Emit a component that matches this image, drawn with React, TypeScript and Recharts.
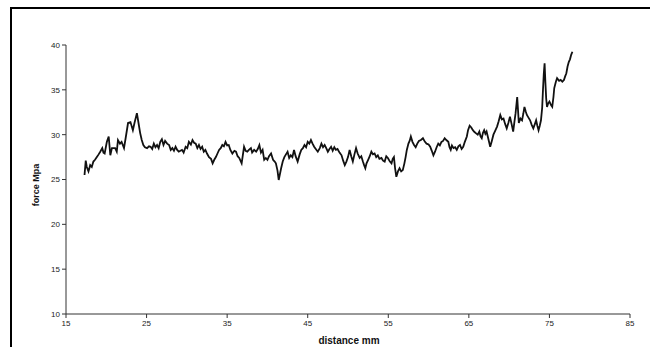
import React from 'react';
import { LineChart, Line, XAxis, YAxis } from 'recharts';

// distance (mm)
const distance = [
  17.3, 17.45, 17.58, 17.79, 18.0, 18.2, 18.4, 18.6, 18.83, 19.05, 19.25, 19.5, 19.65, 19.8, 20.07, 20.3, 20.5, 20.7, 21.1, 21.3,
  21.45, 21.7, 21.9, 22.2, 22.4, 22.7, 23.0, 23.3, 23.5, 23.8, 24.0, 24.2, 24.4, 24.6, 24.8, 25.06, 25.3, 25.5, 25.7, 25.9,
  26.1, 26.3, 26.5, 26.7, 26.9, 27.1, 27.3, 27.55, 27.8, 28.0, 28.2, 28.4, 28.6, 28.8, 29.0, 29.2, 29.4, 29.6, 29.85, 30.05,
  30.25, 30.5, 30.7, 30.9, 31.1, 31.3, 31.5, 31.7, 31.9, 32.1, 32.3, 32.5, 32.75, 33.0, 33.2, 33.4, 33.6, 33.8, 34.0, 34.2,
  34.4, 34.6, 34.8, 35.0, 35.2, 35.4, 35.65, 35.9, 36.1, 36.3, 36.5, 36.8, 37.1, 37.3, 37.5, 37.7, 37.95, 38.1, 38.35, 38.6,
  38.8, 39.0, 39.2, 39.4, 39.6, 39.8, 40.0, 40.2, 40.45, 40.7, 40.9, 41.05, 41.25, 41.4, 41.7, 41.9, 42.1, 42.3, 42.5, 42.7,
  42.9, 43.1, 43.3, 43.5, 43.75, 44.0, 44.2, 44.4, 44.6, 44.8, 45.0, 45.2, 45.4, 45.6, 45.8, 46.0, 46.25, 46.5, 46.7, 46.9,
  47.1, 47.3, 47.5, 47.7, 47.9, 48.1, 48.3, 48.5, 48.7, 48.95, 49.2, 49.4, 49.6, 49.8, 50.0, 50.2, 50.4, 50.6, 50.8, 51.0,
  51.2, 51.45, 51.65, 51.85, 52.0, 52.15, 52.3, 52.5, 52.7, 52.9, 53.1, 53.3, 53.5, 53.7, 53.9, 54.15, 54.35, 54.55, 54.75, 54.95,
  55.2, 55.4, 55.55, 55.7, 55.85, 56.0, 56.2, 56.4, 56.6, 56.8, 57.0, 57.15, 57.3, 57.5, 57.65, 57.8, 58.0, 58.2, 58.4, 58.6,
  58.8, 59.05, 59.3, 59.55, 59.75, 60.0, 60.2, 60.4, 60.6, 60.8, 61.0, 61.2, 61.4, 61.6, 61.8, 62.0, 62.2, 62.45, 62.6, 62.75,
  62.9, 63.1, 63.3, 63.5, 63.7, 63.9, 64.1, 64.3, 64.5, 64.75, 64.9, 65.1, 65.3, 65.5, 65.7, 65.9, 66.1, 66.3, 66.45, 66.6,
  66.75, 66.9, 67.05, 67.2, 67.4, 67.65, 67.85, 68.05, 68.25, 68.5, 68.7, 68.9, 69.1, 69.3, 69.5, 69.7, 69.9, 70.1, 70.3, 70.5,
  70.65, 70.8, 71.0, 71.2, 71.4, 71.6, 71.75, 71.9, 72.05, 72.2, 72.4, 72.6, 72.8, 73.0, 73.2, 73.35, 73.5, 73.65, 73.8, 73.95,
  74.1, 74.2, 74.3, 74.4, 74.5, 74.6, 74.7, 74.85, 75.0, 75.2, 75.35, 75.5, 75.6, 75.8, 75.95, 76.2, 76.4, 76.6, 76.8, 76.95,
  77.1, 77.25, 77.4, 77.55, 77.7, 77.85,
];

// force (MPa) at each distance
const force = [
  25.5, 27.1, 26.4, 25.9, 26.6, 26.4, 27.0, 27.2, 27.5, 27.8, 28.1, 28.5, 28.0, 27.9, 29.2, 29.8, 27.7, 28.5, 28.5, 28.1,
  29.4, 29.0, 29.2, 28.5, 29.6, 31.3, 31.4, 30.5, 31.3, 32.4, 31.3, 30.2, 29.4, 28.85, 28.6, 28.5, 28.7, 28.65, 28.4, 29.0,
  28.6, 28.85, 28.5, 29.2, 29.5, 28.85, 29.3, 29.0, 28.85, 28.3, 28.5, 28.2, 28.65, 28.3, 28.1, 28.2, 28.3, 28.0, 28.65, 28.5,
  29.2, 28.9, 29.4, 29.1, 29.0, 28.5, 28.85, 28.4, 28.65, 28.1, 28.3, 27.9, 27.5, 27.3, 26.8, 27.2, 27.5, 27.9, 28.3, 28.5,
  28.85, 28.7, 29.2, 28.8, 28.85, 28.3, 27.9, 28.2, 28.1, 27.6, 27.4, 26.8, 28.65, 28.2, 28.1, 28.3, 28.5, 28.0, 28.3, 28.1,
  28.4, 28.85, 28.0, 28.3, 27.2, 27.4, 27.2, 27.6, 27.9, 27.2, 27.0, 26.8, 26.0, 24.95, 26.25, 27.0, 27.5, 27.8, 28.1, 27.4,
  27.7, 27.5, 28.3, 27.6, 27.0, 27.8, 28.3, 28.5, 28.85, 28.6, 29.2, 29.0, 29.4, 29.0, 28.65, 28.4, 28.1, 28.5, 29.0, 28.6,
  28.85, 28.5, 28.1, 28.4, 28.65, 28.2, 28.6, 28.3, 28.4, 28.0, 27.7, 27.1, 26.6, 27.0, 27.5, 28.3, 27.6, 27.0, 27.8, 28.5,
  27.9, 27.4, 27.6, 27.0, 26.6, 26.25, 26.8, 27.2, 27.6, 28.1, 27.8, 27.9, 27.5, 27.7, 27.3, 27.4, 27.1, 27.0, 27.6, 27.4,
  27.0, 26.8, 27.3, 27.5, 26.2, 25.3, 25.9, 26.25, 25.9, 26.05, 26.8, 27.5, 28.3, 29.0, 29.3, 29.8, 29.2, 28.85, 28.6, 29.0,
  29.3, 29.4, 29.6, 29.2, 29.0, 28.9, 28.65, 28.2, 27.7, 28.1, 28.6, 29.0, 28.8, 29.2, 29.3, 29.6, 29.4, 29.2, 28.6, 28.3,
  28.8, 28.5, 28.6, 28.3, 28.7, 28.85, 28.4, 28.65, 29.2, 29.8, 30.5, 31.0, 30.8, 30.5, 30.3, 30.15, 30.0, 30.35, 29.8, 29.6,
  30.2, 30.5, 30.1, 30.35, 29.6, 28.65, 29.3, 30.0, 30.4, 30.9, 31.5, 32.2, 31.7, 31.8, 31.2, 30.7, 31.3, 32.0, 31.2, 30.35,
  31.4, 32.4, 34.2, 31.3, 31.8, 31.6, 32.3, 33.1, 32.6, 32.2, 31.9, 31.6, 31.1, 30.7, 31.2, 31.6, 31.0, 30.5, 31.0, 31.6,
  33.0, 35.0, 36.8, 37.95, 35.8, 34.0, 33.1, 33.5, 33.7, 33.3, 33.1, 34.2, 35.2, 35.9, 36.3, 36.0, 36.1, 35.9, 36.1, 36.5,
  36.85, 37.6, 38.1, 38.4, 38.9, 39.25,
];

const xTicks = [15, 25, 35, 45, 55, 65, 75, 85];
const yTicks = [10, 15, 20, 25, 30, 35, 40];

const data = distance.map((d, i) => ({ distance: d, force: force[i] }));

const tickStyle = { fontSize: 8, fill: '#222', fontFamily: 'Liberation Sans, Arial, sans-serif' };

export default function App() {
  return (
    <div style={{ position: 'absolute', left: 0, top: 0, width: 650, height: 347, background: '#fff', overflow: 'hidden' }}>
      {/* scan frame */}
      <div style={{ position: 'absolute', left: 10, top: 7, right: -4, bottom: -4, borderTop: '2px solid #000', borderLeft: '2px solid #000' }} />
      <LineChart width={650} height={347} data={data} margin={{ top: 45, right: 20, bottom: 0, left: 0 }}>
        <XAxis
          dataKey="distance"
          type="number"
          domain={[15, 85]}
          ticks={xTicks}
          height={33}
          tickSize={4}
          tickMargin={2}
          tick={tickStyle}
          stroke="#333"
          allowDataOverflow
          label={{
            content: () => (
              <text x={349} y={344} textAnchor="middle" fontSize={10} fontWeight="bold" fill="#111" fontFamily="Liberation Sans, Arial, sans-serif">
                distance mm
              </text>
            ),
          }}
        />
        <YAxis
          type="number"
          domain={[10, 40]}
          ticks={yTicks}
          width={66}
          tickSize={4}
          tickMargin={2}
          tick={tickStyle}
          stroke="#333"
          label={{
            content: () => (
              <text x={39} y={185} transform="rotate(-90 39 185)" textAnchor="middle" fontSize={9} fontWeight="bold" fill="#111" fontFamily="Liberation Sans, Arial, sans-serif">
                force Mpa
              </text>
            ),
          }}
        />
        <Line dataKey="force" type="linear" stroke="#111" strokeWidth={1.8} dot={false} isAnimationActive={false} />
      </LineChart>
    </div>
  );
}
